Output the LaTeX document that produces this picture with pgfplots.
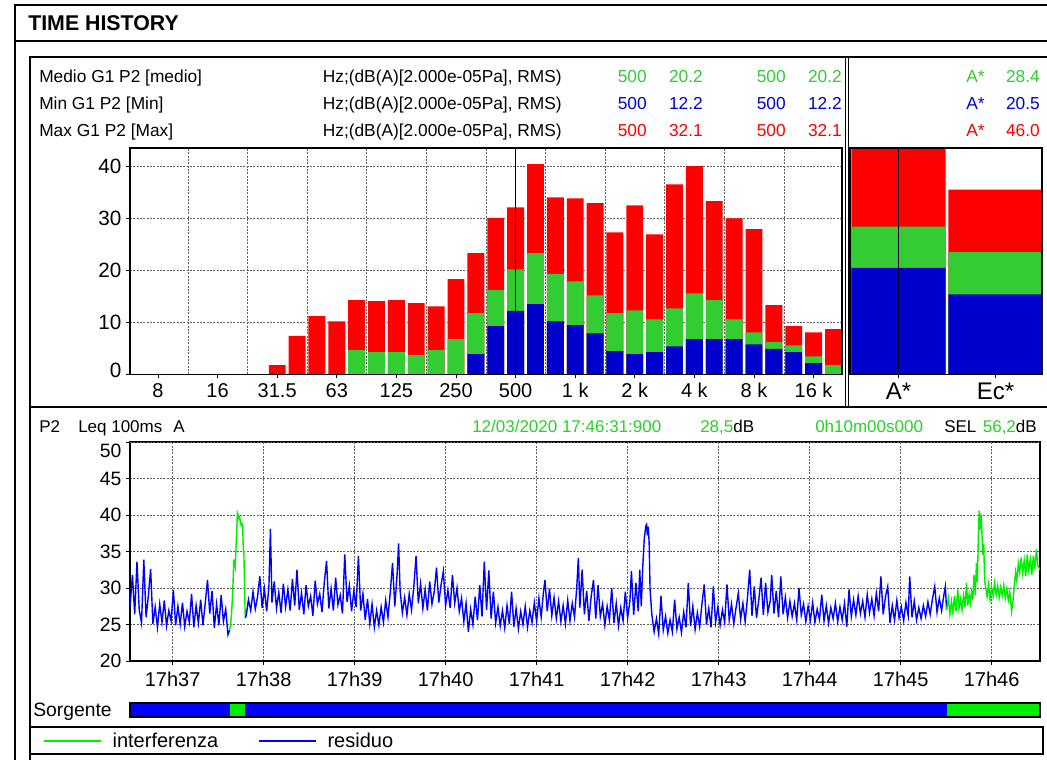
\documentclass[border=0pt]{standalone}
\usepackage{fontspec}
\setmainfont{Liberation Sans}
\usepackage{pgfplots}
\usepackage{pgfplotstable}
\pgfplotsset{compat=1.18}
\newcommand\fsz[1]{\fontsize{#1}{#1}\selectfont}
\definecolor{bred}{RGB}{255,0,0}
\definecolor{bgreen}{RGB}{51,204,51}
\definecolor{bblue}{RGB}{0,0,204}
\definecolor{hgreen}{RGB}{40,210,40}
\definecolor{tblue}{RGB}{0,0,210}
\definecolor{lgreen}{RGB}{0,238,0}
\definecolor{lblue}{RGB}{0,0,255}
\definecolor{gridc}{RGB}{95,95,95}

\pgfplotstableread{
idx max med min
6 1.8 0 0
7 7.4 0 0
8 11.2 0 0
9 10.2 0 0
10 14.3 4.7 0
11 14.1 4.3 0
12 14.3 4.3 0
13 13.7 3.7 0
14 13.1 4.7 0
15 18.3 6.8 0
16 23.3 11.8 3.9
17 30.1 16.2 9.3
18 32.1 20.2 12.2
19 40.4 23.3 13.5
20 34.0 19.3 10.2
21 33.8 17.9 9.5
22 32.9 15.2 7.9
23 27.3 11.8 4.5
24 32.5 12.3 3.9
25 26.9 10.6 4.3
26 36.5 12.7 5.4
27 40.0 15.6 6.8
28 33.3 14.3 6.8
29 30.0 10.6 6.8
30 27.9 8.1 5.8
31 13.3 6.2 4.9
32 9.3 5.6 4.3
33 8.1 3.5 2.2
34 8.7 1.8 0
}\bands

\pgfplotstableread{
idx max med min
0 46.0 28.4 20.5
1 35.5 23.5 15.4
}\totals

\pgfplotstableread{
t L
32.0 27.5
33.5 31.8
35.0 26.4
36.5 33.6
38.0 27.0
39.5 25.2
41.0 33.9
42.5 26.0
44.0 28.9
45.5 32.6
47.0 25.1
48.5 27.4
50.0 24.6
51.5 27.8
53.0 25.3
54.5 28.3
56.0 24.8
57.5 26.9
59.0 25.5
60.5 29.7
62.0 24.9
63.5 27.5
65.0 25.0
66.5 28.0
68.0 24.7
69.5 26.8
71.0 25.3
72.5 29.2
74.0 24.6
75.5 27.6
77.0 25.2
78.5 28.4
80.0 24.9
81.5 27.9
83.0 31.1
84.5 26.5
86.0 29.6
87.5 24.5
89.0 27.8
90.5 24.9
92.0 29.0
93.5 25.4
95.0 27.1
96.5 23.6
97.6 24.2
}\blueA

\pgfplotstableread{
t L
97.6 24.2
98.2 25.0
98.8 26.3
99.4 28.5
99.9 31.0
100.3 33.9
100.8 33.2
101.3 32.8
101.8 35.5
102.3 38.0
102.7 40.3
103.2 40.0
103.7 39.5
104.2 39.7
104.7 39.0
105.2 38.6
105.7 38.8
106.2 38.5
106.6 35.3
107.0 34.8
107.4 30.5
107.9 25.9
}\greenA

\pgfplotstableread{
t L
107.9 25.9
108.5 26.2
110.0 28.4
111.5 26.9
113.0 29.5
114.5 27.1
116.0 28.8
117.5 31.6
119.0 27.3
120.5 29.9
122.0 26.8
123.5 30.2
124.5 38.1
125.5 28.0
127.0 30.9
128.5 27.2
130.0 29.4
131.5 26.6
133.0 30.6
134.5 27.4
136.0 29.8
137.5 26.9
139.0 31.2
140.5 27.6
142.0 32.5
143.5 27.0
145.0 29.3
146.5 26.4
148.0 30.4
149.5 27.5
151.0 28.9
152.5 26.2
154.0 31.0
155.5 27.8
157.0 29.2
158.5 26.7
160.0 30.8
161.5 33.7
163.0 27.2
164.5 29.9
166.0 26.9
167.5 31.4
169.0 27.7
170.5 29.0
172.0 26.5
173.5 34.6
175.0 28.1
176.5 30.3
178.0 26.8
179.5 29.6
181.0 27.4
182.5 34.4
184.0 26.9
185.5 29.2
187.0 25.6
188.5 28.5
190.0 25.1
191.5 27.8
193.0 24.6
194.5 26.9
196.0 24.9
197.5 27.4
199.0 25.3
200.5 28.3
202.0 26.0
203.5 29.4
205.0 33.4
206.5 27.5
208.0 31.8
209.0 36.1
210.0 29.6
211.5 26.6
213.0 28.7
214.5 26.3
216.0 29.2
217.5 27.0
219.0 30.1
220.5 34.4
222.0 27.9
223.5 30.6
225.0 27.2
226.5 29.8
228.0 26.9
229.5 30.9
231.0 27.8
232.5 29.5
234.0 32.8
235.5 28.0
237.0 30.4
238.5 32.3
240.0 27.6
241.5 29.7
243.0 27.3
244.5 31.8
246.0 27.9
247.5 30.0
249.0 26.8
250.5 28.6
252.0 25.4
253.5 27.9
255.0 24.0
256.5 27.1
258.0 25.0
259.5 28.8
261.0 25.6
262.5 30.4
264.0 26.1
265.5 33.6
267.0 27.0
268.5 32.4
270.0 25.8
271.5 29.5
273.0 25.2
274.5 27.4
276.0 24.8
277.5 26.9
279.0 24.5
280.5 27.6
282.0 25.1
283.5 29.5
285.0 24.7
286.5 27.2
288.0 24.4
289.5 26.8
291.0 25.0
292.5 27.5
294.0 24.6
295.5 26.9
297.0 25.3
298.5 28.0
300.0 25.4
301.5 28.6
303.0 26.0
304.5 29.4
305.5 31.1
307.0 26.8
308.5 29.9
310.0 26.2
311.5 28.7
313.0 25.8
314.5 28.2
316.0 25.4
317.5 27.6
319.0 25.1
320.5 28.3
322.0 25.5
323.5 27.9
325.0 26.0
326.5 30.2
327.5 34.1
328.5 27.3
330.0 32.5
331.5 26.4
333.0 29.6
334.5 25.5
336.0 28.9
337.5 31.1
339.0 25.8
340.5 30.4
342.0 26.1
343.5 27.8
345.0 24.9
346.5 27.5
348.0 25.6
349.5 30.0
351.0 25.2
352.5 27.9
354.0 24.8
355.5 27.3
357.0 25.5
358.5 29.5
360.0 25.9
361.5 28.2
362.5 32.3
364.0 26.3
365.5 30.7
367.0 26.8
368.0 32.5
369.0 27.5
370.0 33.0
371.0 36.8
372.0 38.5
372.5 38.7
373.0 37.2
373.6 38.4
374.2 36.2
374.8 29.8
376.0 26.3
377.5 24.0
379.0 25.8
380.5 23.7
382.0 28.9
383.5 24.2
385.0 26.1
386.5 23.8
388.0 25.6
389.5 24.0
391.0 28.4
392.5 24.4
394.0 26.0
395.5 23.9
397.0 26.7
398.5 24.6
400.0 30.7
401.5 24.8
403.0 27.5
404.5 24.3
406.0 26.6
407.5 24.7
409.0 27.8
410.5 30.5
412.0 25.0
413.5 27.2
415.0 24.6
416.5 30.2
418.0 25.3
419.5 27.4
421.0 24.9
422.5 27.0
424.0 25.3
425.5 30.5
427.0 25.6
428.5 27.8
430.0 25.1
431.5 27.3
433.0 29.3
434.5 25.7
436.0 27.9
437.5 25.4
439.0 28.6
440.5 32.5
442.0 26.2
443.5 30.2
445.0 25.9
446.5 28.4
448.0 31.4
449.5 26.3
451.0 30.7
452.5 26.7
454.0 28.2
455.0 31.8
456.5 26.5
458.0 29.6
459.5 26.0
461.0 31.6
462.5 26.4
464.0 28.7
465.5 25.9
467.0 28.2
468.5 26.1
470.0 27.9
471.5 25.6
473.0 30.0
474.5 26.3
476.0 27.8
477.5 25.4
479.0 27.5
480.5 25.6
482.0 28.0
483.5 25.3
485.0 27.1
486.5 25.7
488.0 29.1
489.5 25.5
491.0 27.6
492.5 25.2
494.0 27.3
495.5 25.8
497.0 27.9
498.5 25.4
500.0 27.4
501.5 25.6
503.0 27.9
504.5 24.7
506.0 29.8
507.5 26.1
509.0 28.4
510.5 26.3
512.0 28.9
513.5 26.5
515.0 28.2
516.5 26.0
518.0 29.1
519.5 26.6
521.0 28.5
522.5 26.2
524.0 29.3
525.5 26.8
527.0 31.6
528.5 26.4
530.0 28.8
531.5 30.2
533.0 25.2
534.5 27.6
536.0 25.6
537.5 28.3
539.0 25.9
540.5 27.4
542.0 25.5
543.5 28.0
545.0 26.2
546.0 31.6
547.5 26.0
549.0 28.2
550.5 25.6
552.0 27.3
553.5 25.8
555.0 27.6
556.5 26.1
558.0 28.1
559.5 26.4
561.0 28.5
562.5 30.2
564.0 26.7
565.5 28.6
567.0 26.9
568.5 29.0
569.5 30.2
570.3 27.0
}\blueB

\pgfplotstableread{
t L
570.3 27.0
571.5 28.6
572.5 26.4
573.5 28.2
574.5 26.6
575.5 28.9
576.5 26.8
577.7 29.8
578.5 27.2
579.5 28.5
580.5 27.0
581.5 29.0
582.5 27.4
583.4 30.7
584.3 27.6
585.2 29.2
586.0 27.9
586.8 29.5
587.6 28.4
588.4 31.8
589.2 29.0
590.0 33.4
590.6 30.8
591.2 36.5
591.8 40.6
592.4 38.0
593.0 40.1
593.6 37.6
594.2 34.5
594.8 36.0
595.4 31.0
596.0 30.2
597.0 28.8
598.0 30.5
599.0 28.4
600.0 30.1
601.0 28.9
602.0 30.7
603.0 29.0
604.0 30.3
605.0 28.7
606.0 30.1
607.0 28.9
608.0 30.4
609.0 28.6
610.0 29.9
611.0 28.3
612.0 29.5
613.2 26.8
614.2 28.4
615.0 30.5
615.8 32.2
616.6 31.0
617.6 33.4
618.5 32.1
619.5 34.2
620.5 32.0
621.5 33.8
622.5 31.6
623.5 34.6
624.5 32.4
625.5 33.9
626.5 31.8
627.5 34.4
628.5 32.6
629.5 35.3
630.5 33.0
631.9 32.5
}\greenB

\begin{document}
\begin{tikzpicture}
\begin{scope}[yshift=570pt,x=0.75pt,y=-0.75pt]
\useasboundingbox (0,0) rectangle (1047,760);
\fill[white] (0,0) rectangle (1047,760);
% frames
\draw[line width=1.1pt] (15,760) -- (15,5) -- (1047,5);
\draw[line width=0.9pt] (15,41) -- (1047,41);
\node[anchor=west, inner sep=0pt, font=\fsz{16pt}\bfseries] at (28,23) {TIME HISTORY};
\draw[line width=0.9pt] (1047,57) -- (30,57) -- (30,760);
\draw[line width=1.6pt] (30,407) -- (1047,407);
\draw[line width=0.8pt] (845.5,57) -- (845.5,407);
\draw[line width=0.8pt] (848.5,57) -- (848.5,407);
% header of spectrum panel
\tikzset{hdr/.style={inner sep=0pt, font=\fsz{13pt}}}
\node[hdr, anchor=base west] at (39,83) {Medio G1 P2 [medio]};
\node[hdr, anchor=base west] at (39,110) {Min G1 P2 [Min]};
\node[hdr, anchor=base west] at (39,137) {Max G1 P2 [Max]};
\node[hdr, anchor=base east] at (562,83) {Hz;(dB(A)[2.000e-05Pa], RMS)};
\node[hdr, anchor=base east] at (562,110) {Hz;(dB(A)[2.000e-05Pa], RMS)};
\node[hdr, anchor=base east] at (562,137) {Hz;(dB(A)[2.000e-05Pa], RMS)};
\foreach \yy/\cc/\va/\vb in {83/bgreen/20.2/28.4, 110/tblue/12.2/20.5, 137/bred/32.1/46.0}{
  \node[hdr, anchor=base east, text=\cc] at (647,\yy) {500};
  \node[hdr, anchor=base east, text=\cc] at (703,\yy) {\va};
  \node[hdr, anchor=base east, text=\cc] at (786,\yy) {500};
  \node[hdr, anchor=base east, text=\cc] at (842,\yy) {\va};
  \node[hdr, anchor=base east, text=\cc] at (985,\yy) {A*};
  \node[hdr, anchor=base east, text=\cc] at (1040,\yy) {\vb};
}
% header of time panel
\tikzset{hdb/.style={inner sep=0pt, font=\fsz{12.75pt}, anchor=base west}}
\node[hdb] at (39,433) {P2};
\node[hdb] at (78,433) {Leq 100ms};
\node[hdb] at (173,433) {A};
\node[hdb, text=hgreen] at (472,433) {12/03/2020 17:46:31:900};
\node[hdb] at (700,433) {\textcolor{hgreen}{28,5}dB};
\node[hdb, text=hgreen] at (815,433) {0h10m00s000};
\node[hdb] at (944,433) {SEL};
\node[hdb, anchor=base east] at (1037,433) {\textcolor{hgreen}{56,2}dB};
% Sorgente label
\node[inner sep=0pt, anchor=base west, font=\fsz{14.5pt}] at (33,717) {Sorgente};
% legend frame
\draw[line width=0.8pt] (30,727) rectangle (1043,754);
\draw[line width=2pt] (30,754) -- (1043,754) -- (1043,727);
\end{scope}

% ---------- spectrum axis ----------
\begin{axis}[
  at={(97.5pt,289.125pt)}, anchor=south west, scale only axis,
  width=534pt, height=169.875pt,
  xmin=-1.41, xmax=34.43, ymin=0, ymax=43.5,
  xtick={0,3,...,33},
  xticklabels={8,16,31.5,63,125,250,500,1 k,2 k,4 k,8 k,16 k},
  minor xtick={1.5,4.5,...,31.5},
  ytick={10,20,30,40},
  extra y ticks={0},
  extra y tick style={yticklabel style={yshift=3pt}},
  xminorgrids=true, ymajorgrids=true, xmajorgrids=false,
  grid style={gridc, dash pattern=on 1.5pt off 1pt, line width=0.45pt},
  minor grid style={gridc, dash pattern=on 1.5pt off 1pt, line width=0.45pt},
  tick align=outside, xtick pos=left, ytick pos=left,
  major tick length=3pt, minor tick length=0pt,
  tick style={black, line width=0.6pt},
  axis line style={black, line width=0.9pt},
  xticklabel style={font=\fsz{15pt}},
  yticklabel style={font=\fsz{15.5pt}},
  /pgf/number format/assume math mode=true,
]
\addplot[ybar, bar width=0.85, bar shift=0pt, fill=bred, draw=none] table[x=idx, y=max] {\bands};
\addplot[ybar, bar width=0.85, bar shift=0pt, fill=bgreen, draw=none] table[x=idx, y=med] {\bands};
\addplot[ybar, bar width=0.85, bar shift=0pt, fill=bblue, draw=none] table[x=idx, y=min] {\bands};
\addplot[black, line width=1.1pt] coordinates {(18,0) (18,43.5)};
\draw[black, line width=0.9pt] (rel axis cs:0,0) rectangle (rel axis cs:1,1);
\end{axis}

% ---------- totals axis ----------
\begin{axis}[
  at={(637.5pt,289.125pt)}, anchor=south west, scale only axis,
  width=144pt, height=169.875pt,
  xmin=-0.5, xmax=1.48, ymin=0, ymax=43.5,
  xtick={0,1}, xticklabels={A*,Ec*}, ytick=\empty,
  tick align=outside, xtick pos=left, major tick length=3pt,
  tick style={black, line width=0.6pt},
  axis line style={black, line width=0.9pt},
  xticklabel style={font=\fsz{18pt}},
]
\addplot[ybar, bar width=0.97, bar shift=0pt, fill=bred, draw=none] table[x=idx, y=max] {\totals};
\addplot[ybar, bar width=0.97, bar shift=0pt, fill=bgreen, draw=none] table[x=idx, y=med] {\totals};
\addplot[ybar, bar width=0.97, bar shift=0pt, fill=bblue, draw=none] table[x=idx, y=min] {\totals};
\addplot[black, line width=1.1pt] coordinates {(0,0) (0,43.5)};
\draw[black, line width=0.9pt] (rel axis cs:0,0) rectangle (rel axis cs:1,1);
\end{axis}

% ---------- time history axis ----------
\begin{axis}[
  at={(97.5pt,74.25pt)}, anchor=south west, scale only axis,
  width=682.5pt, height=164.25pt,
  xmin=31.9, xmax=631.9, ymin=20, ymax=50,
  xtick={60,120,...,600},
  xticklabels={17h37,17h38,17h39,17h40,17h41,17h42,17h43,17h44,17h45,17h46},
  ytick={20,25,...,45},
  extra y ticks={50},
  extra y tick style={yticklabel style={yshift=-7pt}},
  grid=major,
  grid style={gridc, dash pattern=on 1.5pt off 1pt, line width=0.45pt},
  tick align=outside, xtick pos=left, ytick pos=left, major tick length=3pt,
  tick style={black, line width=0.6pt},
  axis line style={black, line width=0.9pt},
  xticklabel style={font=\fsz{15pt}, yshift=-2pt},
  yticklabel style={font=\fsz{14.5pt}},
  /pgf/number format/assume math mode=true,
  legend columns=2,
  legend style={at={(-0.0956,-0.365)}, anchor=west, draw=none, fill=none,
    inner sep=0pt, font=\fsz{15pt},
    /tikz/every odd column/.append style={column sep=6pt},
    /tikz/every even column/.append style={column sep=28pt}},
  legend image code/.code={\draw[#1] (0pt,0pt) -- (43pt,0pt);},
]
\addplot[lblue, line width=1.05pt, forget plot] table[x=t, y=L] {\blueA};
\addplot[lgreen, line width=1.05pt, forget plot] table[x=t, y=L] {\greenA};
\addplot[lblue, line width=1.05pt, forget plot] table[x=t, y=L] {\blueB};
\addplot[lgreen, line width=1.05pt, forget plot] table[x=t, y=L] {\greenB};
\addlegendimage{lgreen, line width=1pt}
\addlegendentry{interferenza}
\addlegendimage{lblue, line width=1pt}
\addlegendentry{residuo}
\end{axis}

% ---------- Sorgente bar ----------
\begin{axis}[
  at={(97.5pt,32.25pt)}, anchor=south west, scale only axis,
  width=682.5pt, height=10.5pt,
  xmin=31.9, xmax=631.9, ymin=0, ymax=1,
  ticks=none, axis on top,
  axis line style={black, line width=0.8pt},
]
\addplot[draw=none, fill=lblue] coordinates {(31.9,1) (97.6,1)} \closedcycle;
\addplot[draw=none, fill=lgreen] coordinates {(97.6,1) (107.9,1)} \closedcycle;
\addplot[draw=none, fill=lblue] coordinates {(107.9,1) (570.3,1)} \closedcycle;
\addplot[draw=none, fill=lgreen] coordinates {(570.3,1) (631.9,1)} \closedcycle;
\end{axis}
\end{tikzpicture}
\end{document}
